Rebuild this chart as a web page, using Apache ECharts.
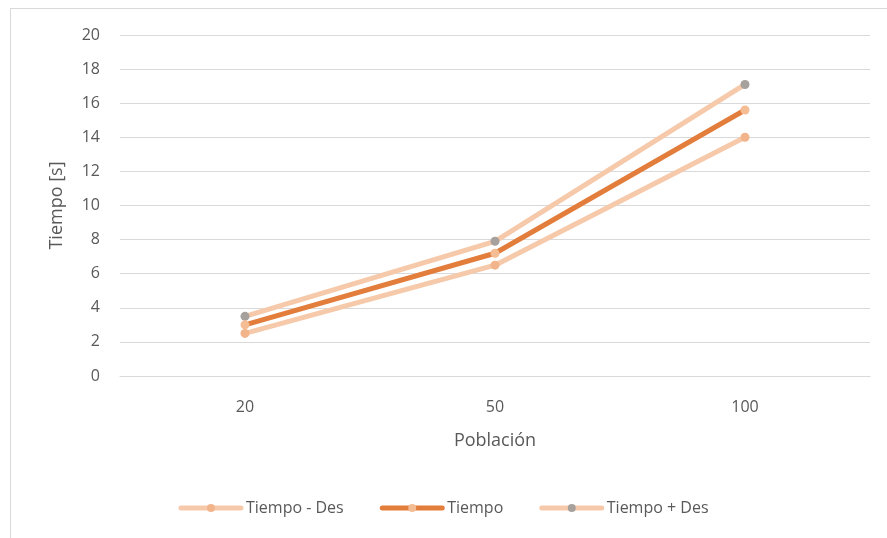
<!DOCTYPE html>
<html>
<head>
<meta charset="utf-8">
<script src="https://cdn.jsdelivr.net/npm/echarts@6/dist/echarts.min.js"></script>
<style>
  html, body { margin: 0; padding: 0; background: #fff; }
  #frame { position: absolute; left: 10px; top: 8px; width: 877px; height: 530px; border: 1px solid #d9d9d9; border-right: none; border-bottom: none; box-sizing: border-box; }
  #chart { position: absolute; left: 0; top: 0; width: 887px; height: 538px; }
</style>
</head>
<body>
<div id="frame"></div>
<div id="chart"></div>
<script>
// Population sizes on the x axis
const categories = ['20', '50', '100'];
// Mean time and the band of one deviation either side
const tiempoMenosDes = [2.5, 6.5, 14.0];
const tiempo = [3.0, 7.2, 15.6];
const tiempoMasDes = [3.5, 7.9, 17.1];
const yTicks = { min: 0, max: 20, interval: 2 };

const chart = echarts.init(document.getElementById('chart'), null, { renderer: 'canvas' });

function lineSeries(name, data, lineColor, markerColor, width, z) {
  return {
    name: name,
    type: 'line',
    data: data,
    symbol: 'circle',
    symbolSize: 9,
    z: z,
    lineStyle: { color: lineColor, width: width, cap: 'round', join: 'round' },
    itemStyle: { color: markerColor, borderWidth: 0 },
    emphasis: { disabled: true }
  };
}

chart.setOption({
  animation: false,
  textStyle: { fontFamily: 'Open Sans, Noto Sans, sans-serif' },
  grid: { left: 120, right: 17, top: 35, bottom: 162, containLabel: false },
  legend: {
    bottom: 17,
    left: 'center',
    itemWidth: 60,
    itemHeight: 10,
    itemGap: 36,
    lineStyle: { width: 5 },
    textStyle: { color: '#595959', fontSize: 16 },
    data: ['Tiempo - Des', 'Tiempo', 'Tiempo + Des']
  },
  xAxis: {
    type: 'category',
    data: categories,
    boundaryGap: true,
    name: 'Población',
    nameLocation: 'middle',
    nameGap: 56,
    nameTextStyle: { color: '#595959', fontSize: 18 },
    axisLine: { show: true, lineStyle: { color: '#d9d9d9' } },
    axisTick: { show: false },
    axisLabel: { color: '#595959', fontSize: 16, margin: 23 }
  },
  yAxis: {
    type: 'value',
    min: yTicks.min,
    max: yTicks.max,
    interval: yTicks.interval,
    name: 'Tiempo [s]',
    nameLocation: 'middle',
    nameGap: 54,
    nameTextStyle: { color: '#595959', fontSize: 18 },
    axisLine: { show: false },
    axisTick: { show: false },
    axisLabel: { color: '#595959', fontSize: 16, margin: 20 },
    splitLine: { lineStyle: { color: '#d9d9d9', width: 1 } }
  },
  series: [
    lineSeries('Tiempo - Des', tiempoMenosDes, '#f5c9a9', '#f2b48a', 5, 2),
    lineSeries('Tiempo', tiempo, '#e27d3c', '#f5bd94', 5, 3),
    lineSeries('Tiempo + Des', tiempoMasDes, '#f5c9a9', '#a6a19d', 5, 2)
  ]
});
</script>
</body>
</html>
